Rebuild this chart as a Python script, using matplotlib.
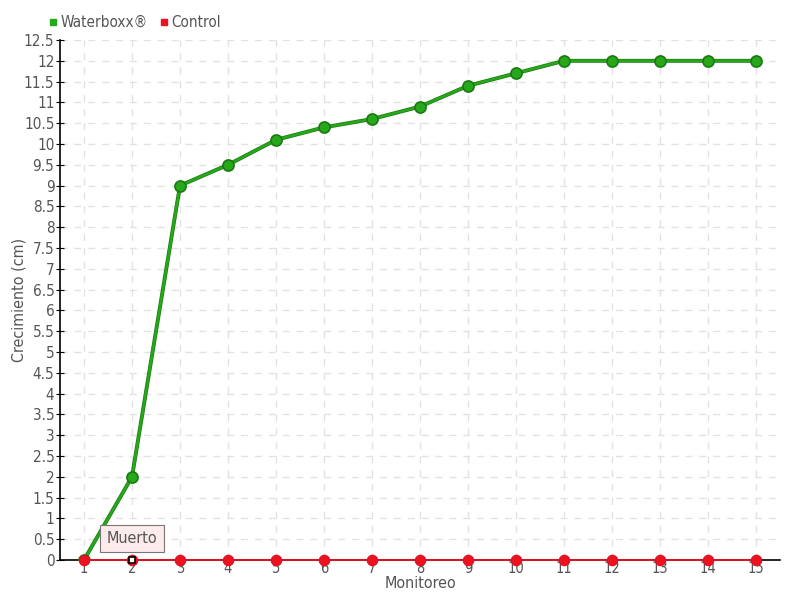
import matplotlib
matplotlib.use("Agg")
import matplotlib.pyplot as plt
from matplotlib.lines import Line2D
import numpy as np

monitoreo = list(range(1, 16))
waterboxx = [0, 2, 9, 9.5, 10.1, 10.4, 10.6, 10.9, 11.4, 11.7, 12, 12, 12, 12, 12]
control = [0] * 15
series_names = ["Waterboxx®", "Control"]
ann_text = "Muerto"

plt.rcParams['font.family'] = ['DejaVu Sans']
plt.rcParams['font.stretch'] = 'condensed'
txtc = "#555555"

fig = plt.figure(figsize=(8, 6), dpi=100)
ax = fig.add_axes([0.075, 0.0667, 0.9, 0.8666])

ax.set_xlim(0.5, 15.5)
ax.set_ylim(0, 12.5)
ax.set_xticks(monitoreo)
ax.set_yticks(np.arange(0, 12.51, 0.5))
ax.set_yticklabels([("%g" % v) for v in np.arange(0, 12.51, 0.5)])
ax.grid(True, color="#e2e2e2", linestyle=(0, (5, 5)), linewidth=1)
ax.set_axisbelow(True)
for s in ["top", "right"]:
    ax.spines[s].set_visible(False)
ax.spines["left"].set_linewidth(1.2)
ax.spines["bottom"].set_linewidth(1.2)
ax.tick_params(axis="both", colors="black", labelcolor=txtc, labelsize=11, length=4, pad=1)
ax.tick_params(axis="y", direction="inout", length=6)
ax.tick_params(axis="x", direction="in", length=0, pad=1, labelsize=10.5)

# Waterboxx series
ax.plot(monitoreo, waterboxx, color="#1c7a12", linewidth=2.8, zorder=3, solid_capstyle="round")
ax.plot(monitoreo, waterboxx, color="#27a81b", linewidth=1.8, zorder=3.1,
        marker="o", markersize=8, markerfacecolor="#27a81b", markeredgecolor="#1a7a12",
        markeredgewidth=1.2)

# Control series
ax.plot(monitoreo, control, color="#ee1122", linewidth=1.3, zorder=4, clip_on=False,
        marker="o", markersize=7.5, markerfacecolor="#ee1122", markeredgecolor="#dd1020",
        markeredgewidth=0.8)
ax.plot([monitoreo[1]], [control[1]], marker="s", markersize=4.5, markerfacecolor="white",
        markeredgecolor="black", markeredgewidth=1.2, zorder=6, clip_on=False)

ax.annotate(ann_text, xy=(monitoreo[1], control[1]), xytext=(0, 15.5), textcoords="offset points",
            ha="center", va="center", fontsize=11.5, color=txtc, zorder=7,
            bbox=dict(boxstyle="square,pad=0.4", facecolor="#fdeaea", edgecolor="#777777", linewidth=0.8))

ax.set_xlabel("Monitoreo", color=txtc, fontsize=11.5)
ax.set_ylabel("Crecimiento (cm)", color=txtc, fontsize=11.5)
ax.xaxis.set_label_coords(0.5, -0.031)
ax.yaxis.set_label_coords(-0.046, 0.5)

handles = [Line2D([], [], linestyle="none", marker="s", markersize=5, color="#27a81b"),
           Line2D([], [], linestyle="none", marker="s", markersize=5, color="#ee1122")]
fig.legend(handles, series_names, loc="upper left", bbox_to_anchor=(0.05, 0.985), ncol=2,
           frameon=False, fontsize=11, handletextpad=0.05, columnspacing=0.6,
           handlelength=0.9, labelcolor=txtc, borderaxespad=0)

fig.savefig("out.png", dpi=100)
